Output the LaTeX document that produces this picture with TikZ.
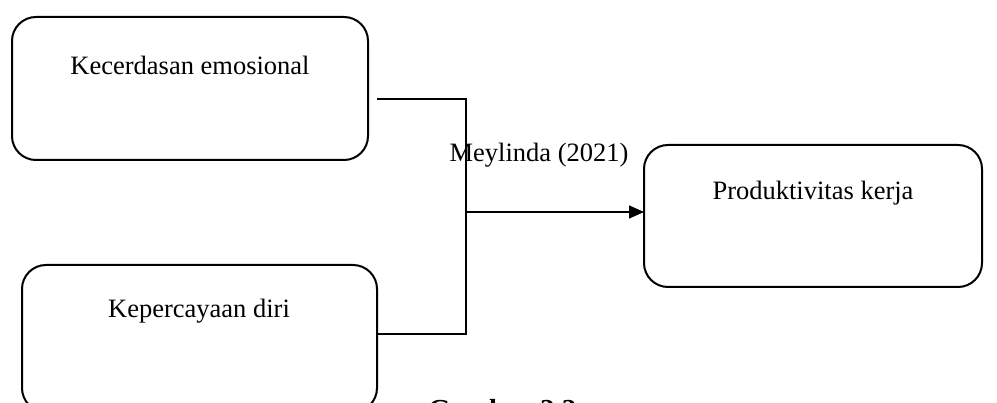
\documentclass[tikz,border=0pt]{standalone}
\usepackage{fontspec}
\setmainfont{Liberation Serif}
\usetikzlibrary{arrows.meta}
\begin{document}
\begin{tikzpicture}[x=1pt,y=-1pt,
  box/.style={draw,line width=2pt,rounded corners=24pt},
  lbl/.style={font=\fontsize{26.5}{30}\selectfont,inner sep=0pt},
  conn/.style={line width=1.5pt}]
\useasboundingbox (0,0) rectangle (997,403);
\begin{scope}
\clip (0,0) rectangle (997,403);
\draw[box] (12,17) rectangle (368,160);
\draw[box] (22,265) rectangle (377,412);
\draw[box] (644,145) rectangle (982,287);
\node[lbl] (t1) at (190,65) {Kecerdasan emosional};
\node[lbl] (t2) at (199,311) {Kepercayaan diri};
\node[lbl] (t3) at (813,193) {Produktivitas kerja};
\node[lbl] (src) at (539,155) {Meylinda (2021)};
\coordinate (a) at (377,99);
\coordinate (b) at (466,99);
\coordinate (c) at (466,334);
\coordinate (d) at (377,334);
\coordinate (m) at (466,212);
\coordinate (e) at (644,212);
\draw[conn] (a) -- (b) -- (c) -- (d);
\draw[conn,-{Triangle[length=15pt,width=13pt]}] (m) -- (e);
\node[font=\fontsize{29}{32}\selectfont\bfseries,inner sep=0pt,anchor=base west] (cap) at (428,420) {Gambar 2.2};
\end{scope}
\end{tikzpicture}
\end{document}
